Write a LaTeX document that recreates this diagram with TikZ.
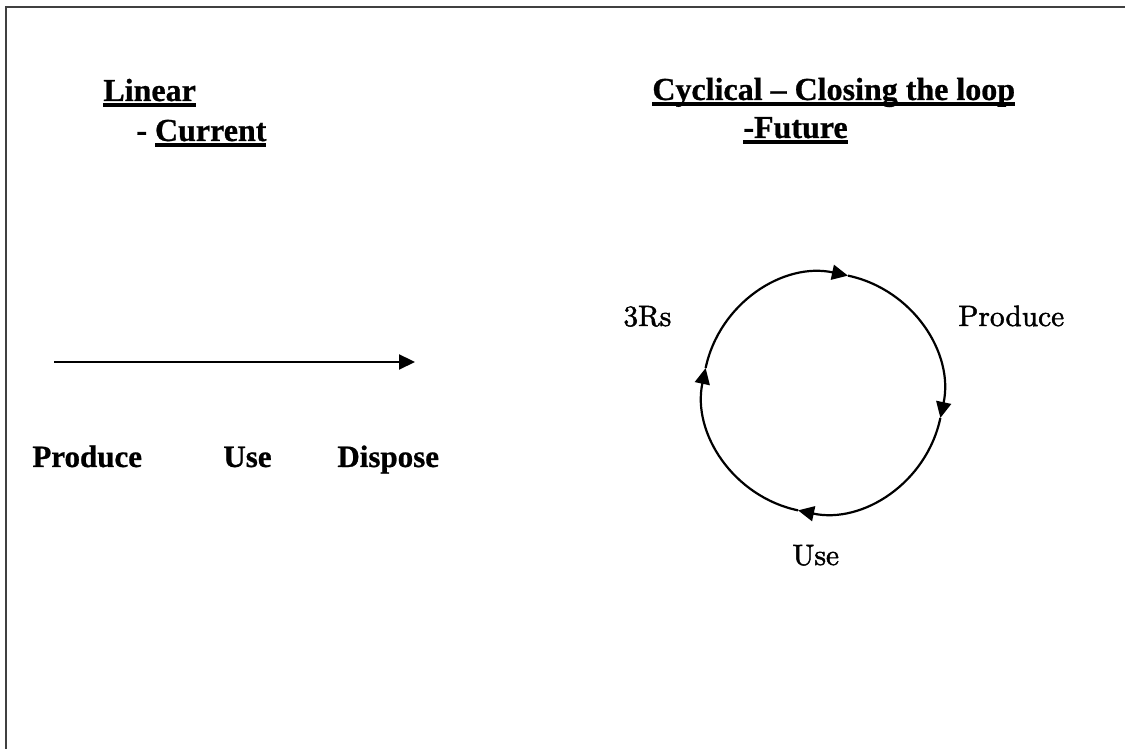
\documentclass[tikz,border=0pt]{standalone}
\usepackage{fontspec}
\usetikzlibrary{arrows.meta}
\newfontfamily\tnr[Ligatures=TeX,BoldFeatures={FakeBold=0.8}]{Liberation Serif}
\newfontfamily\lmlab[FakeBold=1.6]{lmroman10-regular.otf}
\newcommand{\ulx}[1]{\setbox0\hbox{#1}\rlap{\rule[-3.2pt]{\wd0}{2.2pt}}\box0}
\tikzset{
  head/.style={inner sep=0pt, anchor=base west, font=\tnr\bfseries\fontsize{16pt}{19pt}\selectfont},
  word/.style={inner sep=0pt, anchor=base west, font=\tnr\bfseries\fontsize{15.5pt}{18pt}\selectfont},
  lab/.style={inner sep=0pt, anchor=base west, font=\lmlab\fontsize{14.7pt}{17pt}\selectfont},
  flow/.style={line width=1.1pt, -{Triangle[length=8pt,width=7.5pt]}},
  frame/.style={line width=1pt, draw=black!75}
}
\begin{document}
\begin{tikzpicture}[x=0.5pt,y=0.5pt]
\useasboundingbox (0,0) rectangle (1125,749);
% frame (top and left edges)
\draw[frame] (6,0) -- (6,742) -- (1125,742);
% headings
\node[head] (lin) at (103,648) {\ulx{Linear}};
\node[head] (cur) at (136,608) {- \ulx{Current}};
\node[head] (cyc) at (652,649) {\ulx{Cyclical – Closing the loop}};
\node[head] (fut) at (743,611) {\ulx{-Future}};
% linear
\coordinate (l0) at (54,387);
\coordinate (l1) at (415,387);
\draw[flow] (l0) -- (l1);
\node[word] (prod) at (32,282) {Produce};
\node[word] (use) at (223,282) {Use};
\node[word] (disp) at (337,282) {Dispose};
% cycle
\coordinate (c) at (823,356);
\draw[flow] (c) ++(168:120) arc[start angle=168,end angle=78,radius=120];
\draw[flow] (c) ++(78:120) arc[start angle=78,end angle=-12,radius=120];
\draw[flow] (c) ++(-12:120) arc[start angle=-12,end angle=-102,radius=120];
\draw[flow] (c) ++(-102:120) arc[start angle=-102,end angle=-192,radius=120];
\node[lab] (rs) at (623,423) {3Rs};
\node[lab] (cprod) at (958,423) {Produce};
\node[lab] (cuse) at (792,184) {Use};
\end{tikzpicture}
\end{document}
